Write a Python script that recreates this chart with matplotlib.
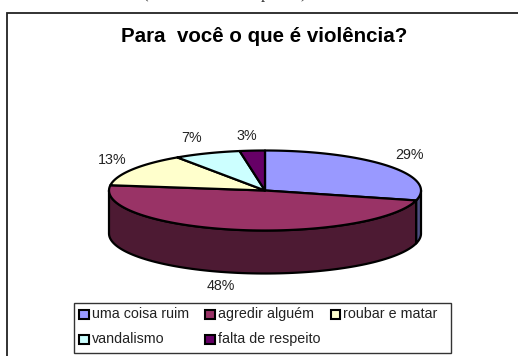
import numpy as np
import matplotlib
matplotlib.use("Agg")
import matplotlib.pyplot as plt
from matplotlib.patches import Polygon, Rectangle

plt.rcParams['font.family'] = ['Liberation Sans', 'DejaVu Sans']

title = "Para  você o que é violência?"
categories = ["uma coisa ruim", "agredir alguém", "roubar e matar", "vandalismo", "falta de respeito"]
values = [29.0, 48.1, 13.4, 6.9, 2.6]
top_colors = ["#9999FF", "#993366", "#FFFFCC", "#CCFFFF", "#660066"]
side_colors = ["#4D4D80", "#4D1A33", "#808066", "#668080", "#330033"]
label_xy = [(409, 155), (221, 286), (112, 160.5), (192, 138), (247, 135.5)]

W, H = 518, 356
fig = plt.figure(figsize=(W / 100, H / 100), dpi=100)
ax = fig.add_axes([0, 0, 1, 1])
ax.set_xlim(0, W); ax.set_ylim(H, 0); ax.axis("off")

# outer frame (runs past the right and bottom edges of the picture)
ax.add_patch(Rectangle((7, 12.5), 530, 360, fc="white", ec="#222222", lw=1.3, zorder=0))
ax.text(264.5, 36.5, title, ha="center", va="center", fontsize=14.8, fontweight="bold", color="black")
for s, x in zip("(p)", (145, 265, 303)):
    ax.text(x, -1.5, s, ha="center", va="baseline", fontsize=12, family="Liberation Serif",
            color="#333333", clip_on=False)

# 3-D pie geometry
cx, cy, rx, ry, depth = 265, 190.5, 156, 40, 43
fr = np.cumsum([0] + values) / sum(values)
def ell(t, dy=0):
    return np.column_stack([cx + rx * np.sin(2 * np.pi * t), cy - ry * np.cos(2 * np.pi * t) + dy])

# side walls (only the front half of the rim is visible)
for i in range(len(values)):
    a, b = max(fr[i], 0.25), min(fr[i + 1], 0.75)
    if a < b:
        t = np.linspace(a, b, 100)
        ax.add_patch(Polygon(np.vstack([ell(t), ell(t[::-1], depth)]), closed=True,
                             fc=side_colors[i], ec="black", lw=1.6, joinstyle="round", zorder=2))
# top faces
for i in range(len(values)):
    t = np.linspace(fr[i], fr[i + 1], 120)
    ax.add_patch(Polygon(np.vstack([[cx, cy], ell(t)]), closed=True,
                         fc=top_colors[i], ec="black", lw=1.6, joinstyle="round", zorder=3))
# labels
for v, (x, y) in zip(values, label_xy):
    ax.text(x, y, f"{round(v)}%", ha="center", va="center", fontsize=10.3, color="#222222")

# legend
ax.add_patch(Rectangle((73.5, 302.5), 377, 50, fc="white", ec="#333333", lw=1.0, zorder=4))
lx = [79, 205, 330.5, 79, 205]
ly = [314, 314, 314, 339, 339]
for name, c, x, y in zip(categories, top_colors, lx, ly):
    ax.add_patch(Rectangle((x, y - 4.5), 9.5, 9.5, fc=c, ec="black", lw=1.5, zorder=5))
    ax.text(x + 12.5, y, name, ha="left", va="center", fontsize=10.3, color="#222222", zorder=5)

fig.savefig("out.png", dpi=100)
